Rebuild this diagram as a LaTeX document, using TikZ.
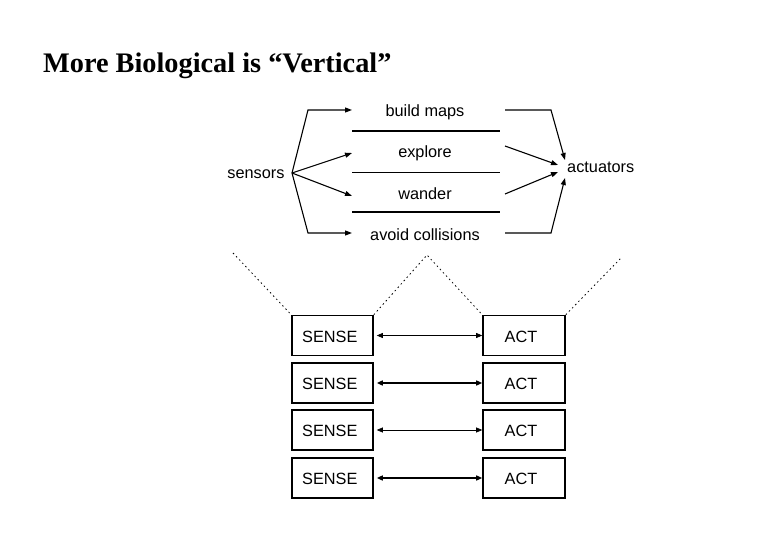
\documentclass[tikz,border=0pt]{standalone}
\usepackage{fontspec}
\setmainfont{Liberation Serif}
\setsansfont{Liberation Sans}
\usetikzlibrary{arrows.meta}
\begin{document}
\begin{tikzpicture}[x=1pt,y=-1pt,
  lbl/.style={font=\sffamily\fontsize{16.3}{18}\selectfont, inner sep=0pt},
  fan/.style={line width=1.1pt, -{Triangle[length=7pt,width=5pt]}},
  sep thick/.style={line width=1.6pt},
  sep thin/.style={line width=0.7pt},
  dots/.style={line width=0.8pt, dash pattern=on 1.5pt off 3pt},
  modbox/.style={draw, line width=1.6pt, minimum width=81pt, minimum height=40pt, inner sep=0pt},
  link/.style={{Triangle[length=6pt,width=5pt]}-{Triangle[length=6pt,width=5pt]}}
]
\useasboundingbox (0,0) rectangle (780,540);
\node[anchor=base west, inner sep=0pt, font=\bfseries\fontsize{28.3}{30}\selectfont] (title) at (43,73) {More Biological is “Vertical”};

% top diagram
\node[lbl] (sensors) at (256,174) {sensors};
\node[lbl, anchor=west] (actuators) at (567,167) {actuators};
\coordinate (src) at (292,173);
\node[lbl] (bm) at (425,112) {build maps};
\node[lbl] (ex) at (425,153) {explore};
\node[lbl] (wa) at (425,194) {wander};
\node[lbl] (ac) at (425,235) {avoid collisions};

\coordinate (t1) at (352,110);
\coordinate (t2) at (352,153);
\coordinate (t3) at (352,196);
\coordinate (t4) at (352,233);
\draw[fan] (src) -- (308,110) -- (t1);
\draw[fan] (src) -- (t2);
\draw[fan] (src) -- (t3);
\draw[fan] (src) -- (308,233) -- (t4);

\coordinate (a1) at (565,160);
\coordinate (a2) at (558,165);
\coordinate (a3) at (558,172);
\coordinate (a4) at (565,178);
\coordinate (s1) at (505,110);
\coordinate (s2) at (505,146);
\coordinate (s3) at (505,194);
\coordinate (s4) at (505,233);
\draw[fan] (s1) -- (551,110) -- (a1);
\draw[fan] (s2) -- (a2);
\draw[fan] (s3) -- (a3);
\draw[fan] (s4) -- (551,233) -- (a4);

\coordinate (l1a) at (352,131); \coordinate (l1b) at (500,131);
\coordinate (l2a) at (352,172); \coordinate (l2b) at (500,172);
\coordinate (l3a) at (352,212); \coordinate (l3b) at (500,212);
\draw[sep thick] (l1a) -- (l1b);
\draw[sep thin] (l2a) -- (l2b);
\draw[sep thick] (l3a) -- (l3b);

% boxes
\foreach \i/\y in {1/335.5,2/383,3/430,4/478}{
  \node[modbox] (S\i) at (332.5,\y) {};
  \node[lbl, anchor=west] (ST\i) at (302,\y+1) {SENSE};
  \node[modbox, minimum width=82pt] (A\i) at (524,\y) {};
  \node[lbl] (AT\i) at (521,\y+1) {ACT};
}
\draw[link, line width=0.6pt] (S1.east) ++(3,0) coordinate (p1) -- (A1.west);
\draw[link, line width=1.4pt] (S2.east) ++(3,0) -- (A2.west);
\draw[link, line width=0.6pt] (S3.east) ++(3,0) -- (A3.west);
\draw[link, line width=1.4pt] (S4.east) ++(3,0) -- (A4.west);

% dotted projection lines
\coordinate (d0) at (233,253);
\coordinate (apex) at (427,255);
\coordinate (d5) at (622,257);
\draw[dots] (d0) -- (S1.north west);
\draw[dots] (S1.north east) -- (apex) -- (A1.north west);
\draw[dots] (A1.north east) -- (d5);
\end{tikzpicture}
\end{document}
